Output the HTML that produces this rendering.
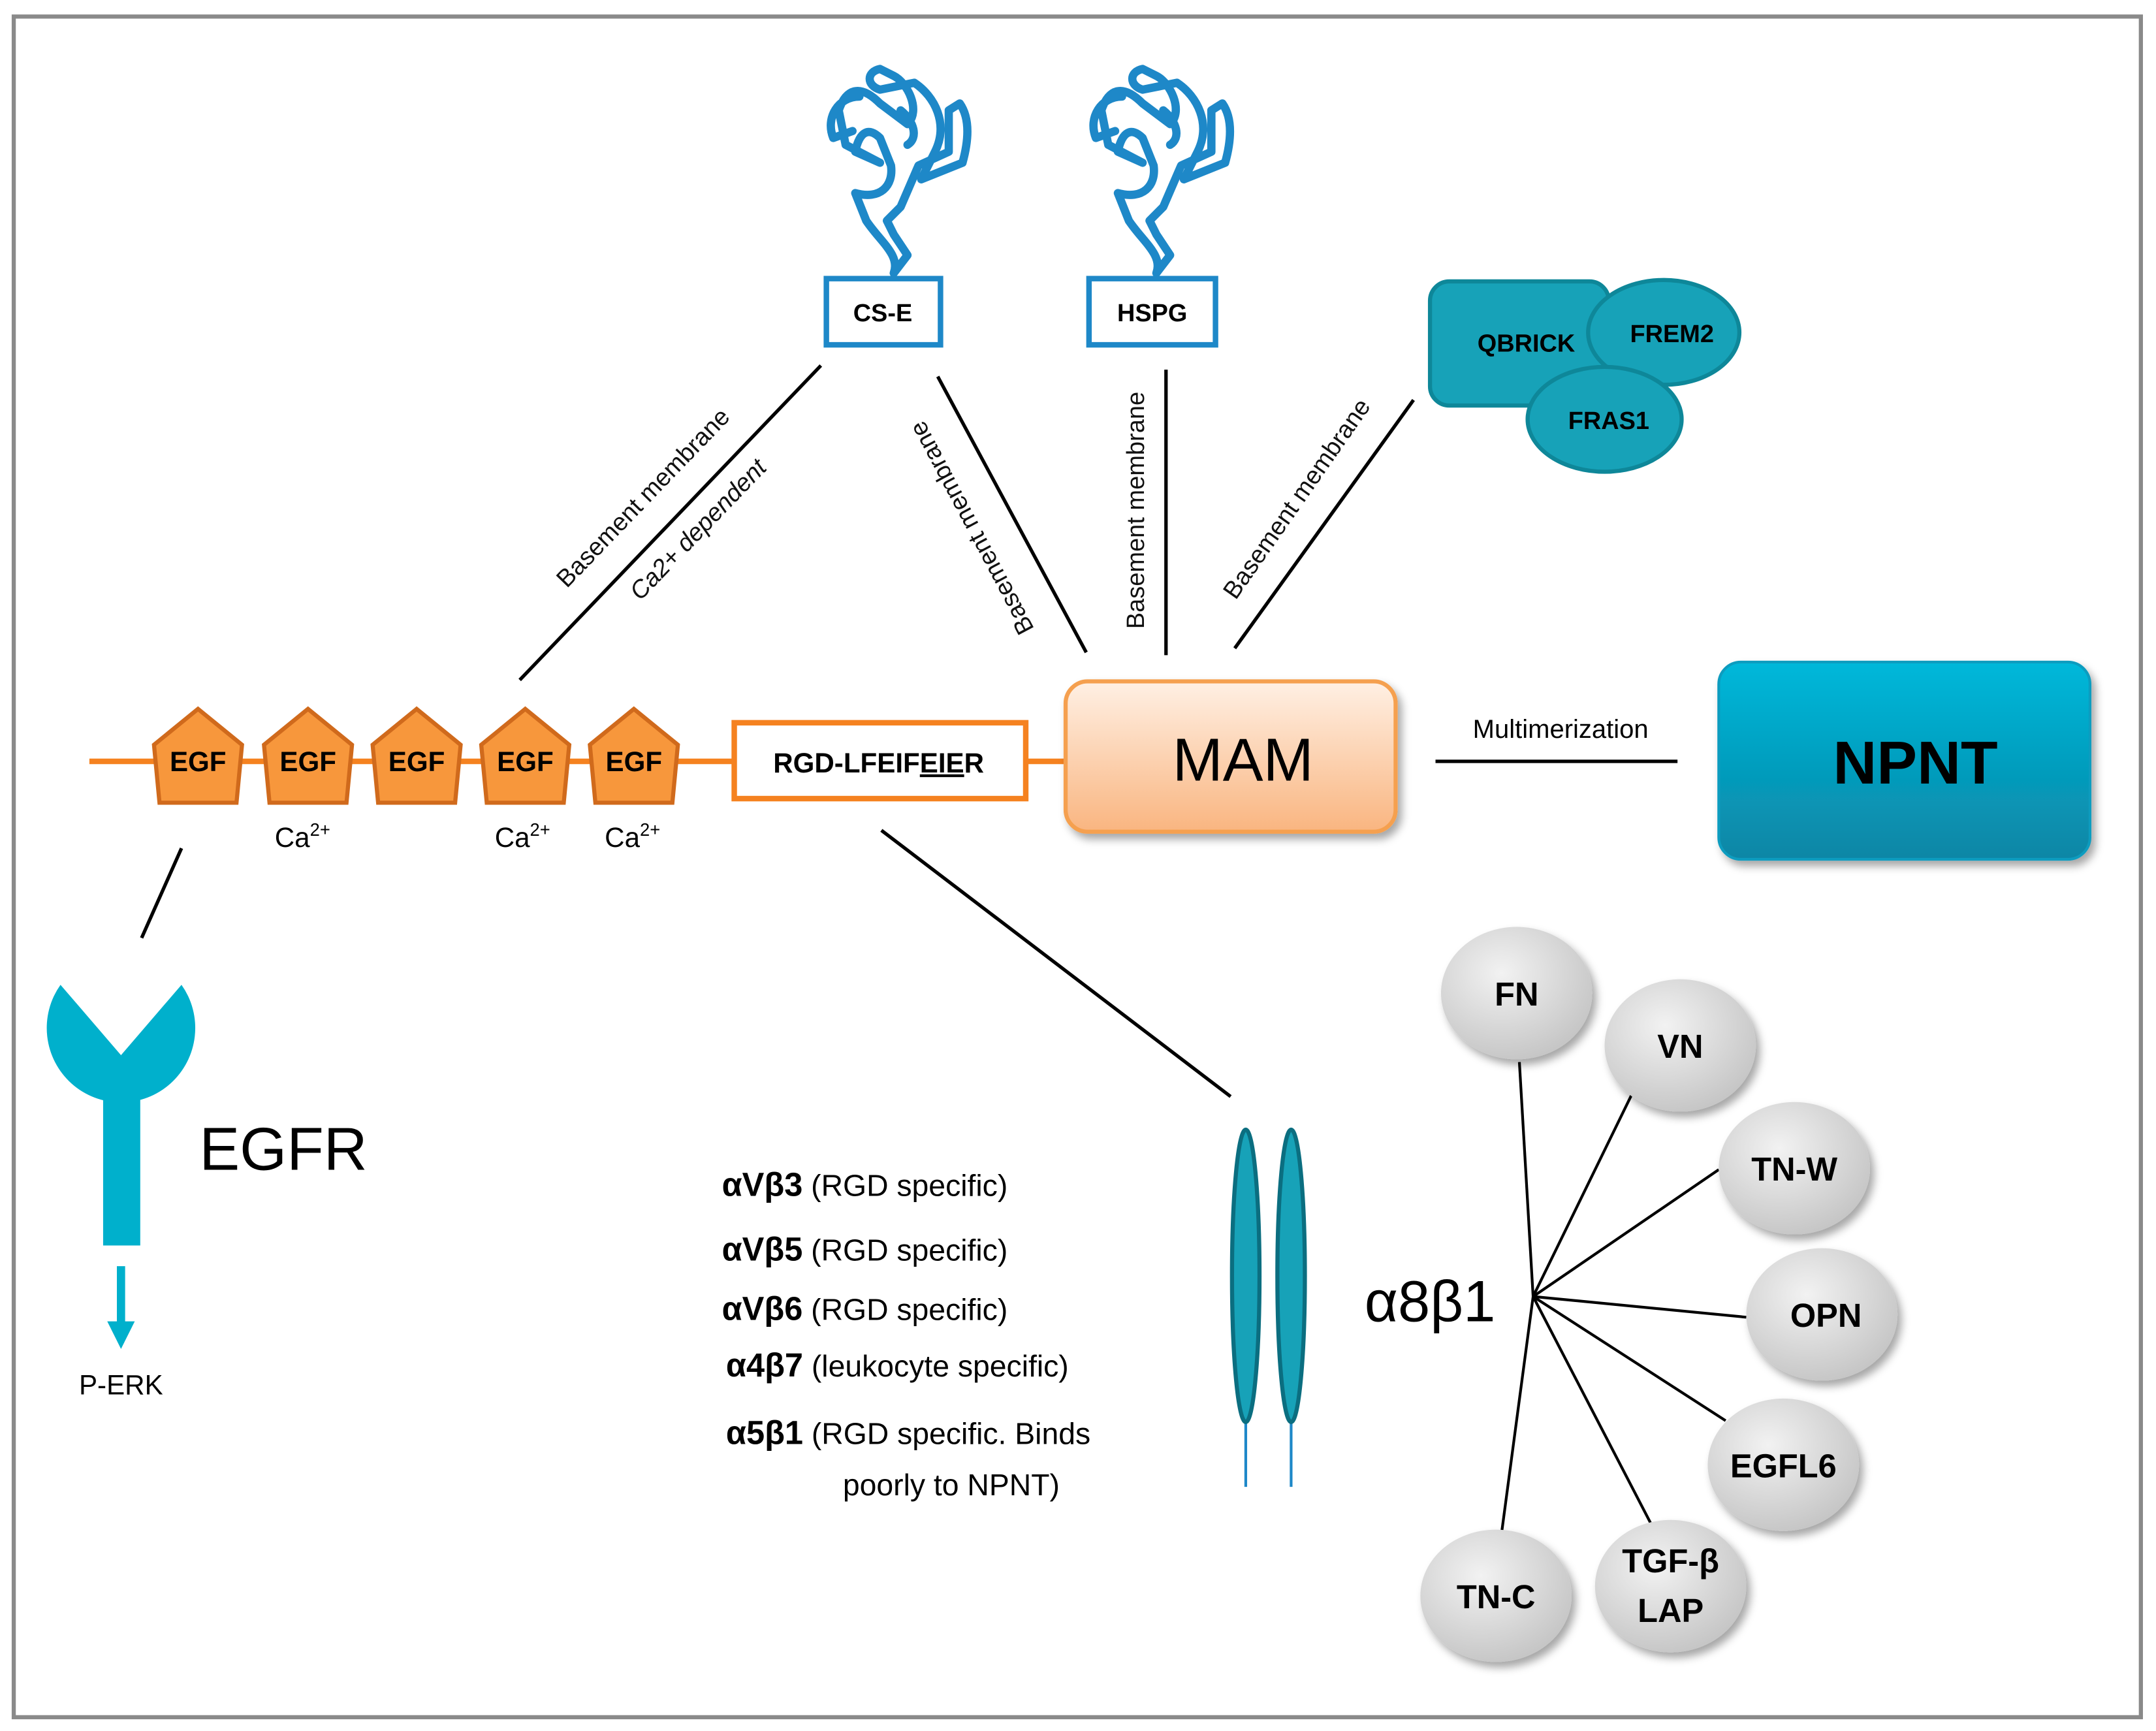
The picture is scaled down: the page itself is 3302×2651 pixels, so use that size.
<!DOCTYPE html>
<html><head><meta charset="utf-8"><style>html,body{margin:0;padding:0;background:#fff}svg{display:block}</style></head>
<body>
<svg width="3302" height="2651" viewBox="0 0 1568 1255" preserveAspectRatio="none" xmlns="http://www.w3.org/2000/svg" font-family="Liberation Sans, DejaVu Sans, sans-serif">
<defs>
<linearGradient id="mam" x1="0" y1="0" x2="0" y2="1"><stop offset="0" stop-color="#fff0e4"/><stop offset="1" stop-color="#f9b580"/></linearGradient>
<linearGradient id="npnt" x1="0" y1="0" x2="0" y2="1"><stop offset="0" stop-color="#00b8da"/><stop offset="1" stop-color="#0a86a5"/></linearGradient>
<radialGradient id="gc" cx="0.4" cy="0.35" r="0.7"><stop offset="0" stop-color="#f2f2f2"/><stop offset="1" stop-color="#c4c4c4"/></radialGradient>
<filter id="sh" x="-20%" y="-20%" width="150%" height="150%"><feDropShadow dx="3" dy="4" stdDeviation="3" flood-color="#000" flood-opacity="0.35"/></filter>
</defs>
<rect x="10" y="12" width="1547" height="1233" fill="#fff" stroke="#8a8a8a" stroke-width="3"/>

<!-- squiggles -->
<g fill="none" stroke="#1e88c8" stroke-width="6" stroke-linejoin="round" stroke-linecap="round">
<path id="sq" d="M650,198 C655,185 640,175 630,160 L622,140 C640,145 650,135 648,120 L640,100 C632,92 625,95 622,110 L640,118 L615,105 L610,80 C615,65 625,60 640,75 L660,90 C670,80 660,60 650,55 L640,50 C630,52 630,62 640,65 L665,60 C680,70 690,90 680,110 L670,130 L700,118 C705,100 705,85 698,75 L690,80 L690,110 L668,120 L655,150 L645,160 L650,170 L660,185 Z M620,95 L606,100 C600,85 610,70 625,70 M655,80 C665,88 668,100 660,105"/>
<use href="#sq" x="191" y="0"/>
</g>
<rect x="601" y="202" width="83" height="48" fill="#fff" stroke="#1e88c8" stroke-width="4"/>
<text x="642" y="233" font-size="18" font-weight="bold" text-anchor="middle">CS-E</text>
<rect x="792" y="202" width="92" height="48" fill="#fff" stroke="#1e88c8" stroke-width="4"/>
<text x="838" y="233" font-size="18" font-weight="bold" text-anchor="middle">HSPG</text>

<!-- QBRICK group -->
<rect x="1040" y="204" width="130" height="90" rx="14" fill="#17a2b8" stroke="#0e8799" stroke-width="3"/>
<text x="1110" y="255" font-size="18" font-weight="bold" text-anchor="middle">QBRICK</text>
<ellipse cx="1210" cy="241" rx="55" ry="38" fill="#17a2b8" stroke="#0e8799" stroke-width="3"/>
<text x="1216" y="248" font-size="18" font-weight="bold" text-anchor="middle">FREM2</text>
<ellipse cx="1167" cy="304" rx="56" ry="38" fill="#17a2b8" stroke="#0e8799" stroke-width="3"/>
<text x="1170" y="311" font-size="18" font-weight="bold" text-anchor="middle">FRAS1</text>

<!-- connector lines -->
<g stroke="#000" stroke-width="2.5">
<line x1="597" y1="265" x2="378" y2="493"/>
<line x1="682" y1="273" x2="790" y2="473"/>
<line x1="848" y1="268" x2="848" y2="475"/>
<line x1="1028" y1="290" x2="898" y2="470"/>
<line x1="1044" y1="552" x2="1220" y2="552"/>
<line x1="132" y1="615" x2="103" y2="680"/>
<line x1="641" y1="602" x2="895" y2="795"/>
</g>
<g font-size="18" fill="#111">
<text transform="translate(472,365) rotate(-46)" text-anchor="middle">Basement membrane</text>
<text transform="translate(512,388) rotate(-46)" text-anchor="middle" font-style="italic">Ca2+ dependent</text>
<text transform="translate(712,380) rotate(-118)" text-anchor="middle">Basement membrane</text>
<text transform="translate(832,370) rotate(-90)" text-anchor="middle">Basement membrane</text>
<text transform="translate(948,365) rotate(-55)" text-anchor="middle">Basement membrane</text>
</g>

<!-- backbone -->
<line x1="65" y1="552" x2="775" y2="552" stroke="#f58220" stroke-width="4"/>
<g fill="#f7973c" stroke="#d06a1c" stroke-width="3">
<polygon points="144,514 176,540 172,582 116,582 112,540"/>
<polygon points="224,514 256,540 252,582 196,582 192,540"/>
<polygon points="303,514 335,540 331,582 275,582 271,540"/>
<polygon points="382,514 414,540 410,582 354,582 350,540"/>
<polygon points="461,514 493,540 489,582 433,582 429,540"/>
</g>
<g font-size="20" font-weight="bold" text-anchor="middle">
<text x="144" y="559">EGF</text><text x="224" y="559">EGF</text><text x="303" y="559">EGF</text><text x="382" y="559">EGF</text><text x="461" y="559">EGF</text>
</g>
<g font-size="20" text-anchor="middle">
<text x="220" y="614">Ca<tspan font-size="13" dy="-8">2+</tspan></text>
<text x="380" y="614">Ca<tspan font-size="13" dy="-8">2+</tspan></text>
<text x="460" y="614">Ca<tspan font-size="13" dy="-8">2+</tspan></text>
</g>
<rect x="534" y="524" width="212" height="55" fill="#fff" stroke="#f58220" stroke-width="4"/>
<text x="639" y="560" font-size="20" font-weight="bold" text-anchor="middle">RGD-LFEIF<tspan text-decoration="underline">EIE</tspan>R</text>

<rect x="775" y="494" width="240" height="109" rx="16" fill="url(#mam)" stroke="#f5a050" stroke-width="3" filter="url(#sh)"/>
<text x="904" y="566" font-size="44" text-anchor="middle">MAM</text>
<text x="1135" y="535" font-size="19" text-anchor="middle">Multimerization</text>
<rect x="1250" y="480" width="270" height="143" rx="16" fill="url(#npnt)" stroke="#0a9cbf" stroke-width="2" filter="url(#sh)"/>
<text x="1393" y="568" font-size="44" font-weight="bold" text-anchor="middle">NPNT</text>

<!-- EGFR -->
<path d="M44,714 L88,765 L132,714 A54,54 0 1 1 44,714 Z" fill="#00b0cc"/>
<rect x="75" y="790" width="27" height="113" fill="#00b0cc"/>
<line x1="88" y1="918" x2="88" y2="962" stroke="#00b0cc" stroke-width="6"/>
<polygon points="78,958 98,958 88,978" fill="#00b0cc"/>
<text x="145" y="848" font-size="44">EGFR</text>
<text x="88" y="1011" font-size="20" text-anchor="middle">P-ERK</text>

<!-- integrin -->
<line x1="906" y1="1020" x2="906" y2="1078" stroke="#1e88c8" stroke-width="2"/>
<line x1="939" y1="1020" x2="939" y2="1078" stroke="#1e88c8" stroke-width="2"/>
<ellipse cx="906" cy="925" rx="10" ry="106" fill="#17a2b8" stroke="#0b6e80" stroke-width="3"/>
<ellipse cx="939" cy="925" rx="10" ry="106" fill="#17a2b8" stroke="#0b6e80" stroke-width="3"/>
<text x="1040" y="958" font-size="42" text-anchor="middle">α8β1</text>

<g font-size="22">
<text x="525" y="867"><tspan font-weight="bold" font-size="24">αVβ3</tspan> (RGD specific)</text>
<text x="525" y="914"><tspan font-weight="bold" font-size="24">αVβ5</tspan> (RGD specific)</text>
<text x="525" y="957"><tspan font-weight="bold" font-size="24">αVβ6</tspan> (RGD specific)</text>
<text x="528" y="998"><tspan font-weight="bold" font-size="24">α4β7</tspan> (leukocyte specific)</text>
<text x="528" y="1047"><tspan font-weight="bold" font-size="24">α5β1</tspan> (RGD specific. Binds</text>
<text x="613" y="1084">poorly to NPNT)</text>
</g>

<g stroke="#000" stroke-width="2">
<line x1="1115" y1="940" x2="1105" y2="770"/>
<line x1="1115" y1="940" x2="1187" y2="793"/>
<line x1="1115" y1="940" x2="1250" y2="848"/>
<line x1="1115" y1="940" x2="1270" y2="955"/>
<line x1="1115" y1="940" x2="1255" y2="1030"/>
<line x1="1115" y1="940" x2="1205" y2="1113"/>
<line x1="1115" y1="940" x2="1092" y2="1112"/>
</g>
<g fill="url(#gc)" filter="url(#sh)">
<ellipse cx="1103" cy="720" rx="55" ry="48"/>
<ellipse cx="1222" cy="758" rx="55" ry="48"/>
<ellipse cx="1305" cy="847" rx="55" ry="48"/>
<ellipse cx="1325" cy="953" rx="55" ry="48"/>
<ellipse cx="1297" cy="1062" rx="55" ry="48"/>
<ellipse cx="1215" cy="1150" rx="55" ry="48"/>
<ellipse cx="1088" cy="1157" rx="55" ry="48"/>
</g>
<g font-size="24" font-weight="bold" text-anchor="middle">
<text x="1103" y="729">FN</text>
<text x="1222" y="767">VN</text>
<text x="1305" y="856">TN-W</text>
<text x="1328" y="962">OPN</text>
<text x="1297" y="1071">EGFL6</text>
<text x="1215" y="1140">TGF-β</text>
<text x="1215" y="1176">LAP</text>
<text x="1088" y="1166">TN-C</text>
</g>
</svg>
</body></html>
